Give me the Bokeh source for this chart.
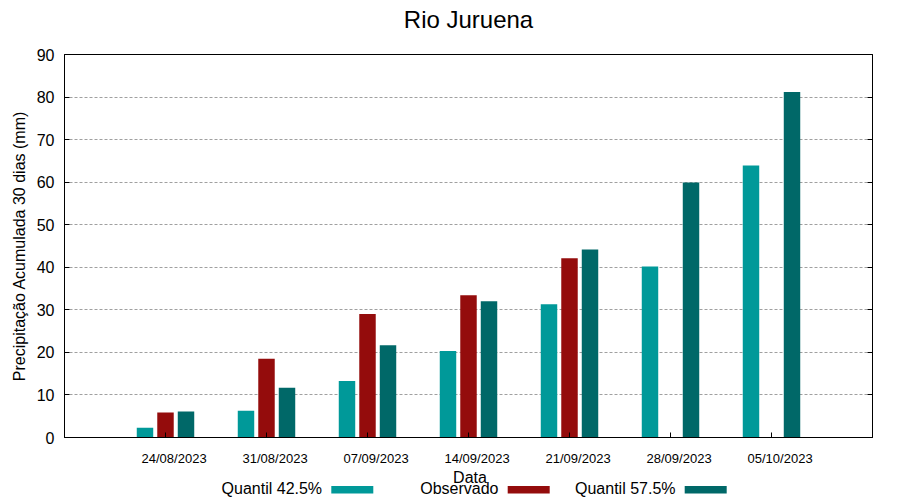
from bokeh.plotting import figure
from bokeh.layouts import column
from bokeh.models import FixedTicker, LinearAxis, Range1d, ColumnDataSource, Title
from bokeh.core.properties import value
from bokeh.embed import file_html
from bokeh.resources import INLINE

# ---- data ----
dates = ["24/08/2023", "31/08/2023", "07/09/2023", "14/09/2023",
         "21/09/2023", "28/09/2023", "05/10/2023"]
quantil_425 = [2.3, 6.3, 13.3, 20.3, 31.3, 40.2, 63.9]
observado = [5.9, 18.5, 29.0, 33.4, 42.1, float("nan"), float("nan")]
quantil_575 = [6.1, 11.7, 21.7, 32.0, 44.2, 59.9, 81.2]
yticks = list(range(0, 91, 10))

series_names = ["Quantil 42.5%", "Observado", "Quantil 57.5%"]
colors = ["#009999", "#940c0c", "#006868"]

FONT = "Liberation Sans"
SHIFT = 0.085          # tick labels sit a little right of the group centres
OFF = 0.203            # bar offset inside a group
BW = 0.163             # bar width

W = 890
H_MAIN = 468
H_LEG = 30
FRAME_L, FRAME_R = 64, 872

n = len(dates)
idx = list(range(n))
centers = [i - SHIFT for i in idx]

p = figure(width=W, height=H_MAIN,
           x_range=Range1d(-1 - SHIFT, 7 - SHIFT), y_range=Range1d(0, 90),
           output_backend="svg", toolbar_location=None,
           x_axis_location=None,
           min_border_left=FRAME_L, min_border_right=W - FRAME_R,
           min_border_top=54, min_border_bottom=H_MAIN - 439)

# spacer between the frame and the title (keeps the title high above the frame)
p.add_layout(Title(text=" ", text_font_size="10px", standoff=7, text_color="white"), "above")

p.title.text = "Rio Juruena"
p.title.align = "center"
p.title.text_font = FONT
p.title.text_font_size = "24px"
p.title.text_font_style = "normal"
p.title.text_color = "black"
p.title.standoff = 4

p.outline_line_color = "black"
p.outline_line_alpha = 1
p.outline_line_width = 1
p.background_fill_color = "white"
p.border_fill_color = "white"

# y axis (left)
yax = p.yaxis[0]
yax.ticker = FixedTicker(ticks=yticks)
yax.major_tick_in = 5
yax.major_tick_out = 0
yax.minor_tick_line_color = None
yax.major_label_text_font = FONT
yax.major_label_text_font_size = "16px"
yax.major_label_text_color = "black"
yax.major_label_standoff = 10
yax.axis_label = "Precipitação Acumulada 30 dias (mm)"
yax.axis_label_text_font = FONT
yax.axis_label_text_font_size = "16px"
yax.axis_label_text_font_style = "normal"
yax.axis_label_text_color = "black"
yax.axis_label_standoff = 6
yax.axis_line_color = "black"

# mirrored ticks on the right
rax = LinearAxis(ticker=FixedTicker(ticks=yticks), major_tick_in=5, major_tick_out=0,
                 minor_tick_line_color=None, major_label_text_font_size="0px",
                 major_label_standoff=0, axis_line_color="black")
p.add_layout(rax, "right")

# x axis: inner ticks at the group centres
xtick_ax = LinearAxis(ticker=FixedTicker(ticks=centers), major_tick_in=5, major_tick_out=0,
                      minor_tick_line_color=None, major_label_text_font_size="0px",
                      major_label_standoff=0, axis_line_color="black")
p.add_layout(xtick_ax, "below")
# x axis: the date labels
xlab_ax = LinearAxis(ticker=FixedTicker(ticks=idx),
                     major_label_overrides={i: d for i, d in zip(idx, dates)},
                     major_tick_line_color=None, minor_tick_line_color=None,
                     axis_line_color=None,
                     major_label_text_font=FONT, major_label_text_font_size="13px",
                     major_label_text_color="black",
                     major_label_standoff=7)
p.add_layout(xlab_ax, "below")

# grid
p.xgrid.visible = False
p.ygrid.ticker = FixedTicker(ticks=yticks[1:-1])
p.ygrid.grid_line_color = "#a0a0a0"
p.ygrid.grid_line_dash = "3 2"
p.ygrid.grid_line_width = 1

# bars
src = ColumnDataSource(dict(
    x1=[c - OFF for c in centers], x2=centers, x3=[c + OFF for c in centers],
    q1=quantil_425, ob=observado, q2=quantil_575))
p.vbar(x="x1", top="q1", width=BW, bottom=0, source=src, fill_color=colors[0], line_color=None)
p.vbar(x="x2", top="ob", width=BW, bottom=0, source=src, fill_color=colors[1], line_color=None)
p.vbar(x="x3", top="q2", width=BW, bottom=0, source=src, fill_color=colors[2], line_color=None)

# ---- strip below: x-axis title and gnuplot-style legend (text, then swatch) ----
# the column aligns this strip's frame with the chart frame, so its x range is
# expressed in page pixels (frame left .. frame right); y counts up from its bottom
leg = figure(width=W, height=H_LEG, x_range=Range1d(FRAME_L, FRAME_R), y_range=Range1d(0, H_LEG),
             output_backend="svg", toolbar_location=None,
             x_axis_location=None, y_axis_location=None,
             min_border_left=FRAME_L, min_border_right=W - FRAME_R,
             min_border_top=0, min_border_bottom=0, outline_line_color=None)
leg.xgrid.visible = False
leg.ygrid.visible = False
leg.border_fill_color = "white"
leg.background_fill_color = "white"

TOP = H_MAIN + H_LEG
def ly(py):
    return TOP - py

leg.text(x=[469.5], y=[ly(477)], text=["Data"], text_align="center",
         text_baseline="middle", text_font=value(FONT), text_font_size="16px",
         text_color="black")

text_right = [321.6, 498.0, 675.0]
leg.text(x=text_right, y=[ly(487.5)] * 3, text=series_names, text_align="right",
         text_baseline="middle", text_font=value(FONT), text_font_size="16px",
         text_color="black")
leg.quad(left=[t + 9.2 for t in text_right], right=[t + 51.2 for t in text_right],
         bottom=[ly(493)] * 3, top=[ly(485.6)] * 3,
         fill_color=colors, line_color=None)

layout = column(p, leg)
open("out.html", "w").write(file_html(layout, INLINE))
